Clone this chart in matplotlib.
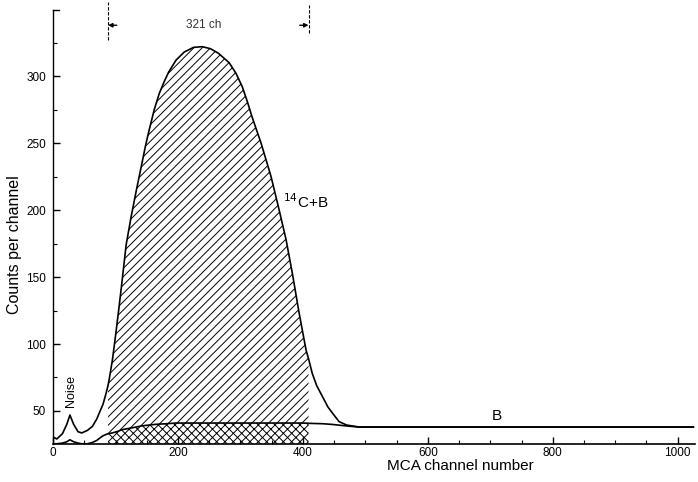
import numpy as np
import matplotlib
matplotlib.use("Agg")
import matplotlib.pyplot as plt

plt.rcParams['font.family'] = ['Liberation Sans', 'DejaVu Sans']
plt.rcParams['hatch.linewidth'] = 0.7

# channel grid (MCA channel number)
chan = [0, 6, 15, 22, 27, 33, 40, 46, 55, 63,
        70, 74, 80, 85, 88, 90, 95, 100, 105, 110,
        117, 125, 133, 141, 148, 154, 162, 170, 178, 185,
        197, 210, 225, 239, 252, 265, 282, 293, 303, 311,
        319, 333, 349, 362, 373, 383, 394, 405, 409, 415,
        422, 431, 440, 448, 458, 470, 490, 600, 800, 1000, 1025]

# 14C + B spectrum (upper curve)
c14_b = [30.6, 29.1, 33, 40, 47, 40, 34.5, 33.6, 35.5, 38.5,
         44, 48.5, 55, 63.4, 69, 74, 88, 106, 125, 145,
         174, 195, 214, 232, 248, 260, 275, 287, 296, 303,
         312, 318, 321.5, 322, 320.5, 317, 310, 302, 292, 281,
         269, 250, 225, 200, 178, 153, 123, 95.5, 89, 78,
         69, 61, 53, 48, 42, 39.5, 38, 38, 38, 38, 38]

# background B (lower curve)
bkg = [25.5, 25.5, 26, 27, 28.5, 27, 26, 25.5, 25.5, 26.5,
       28, 29.5, 31.5, 32.5, 33, 33.2, 33.6, 34.3, 35, 36,
       36.6, 37.3, 38, 38.8, 39.2, 39.5, 39.9, 40.2, 40.4, 40.6,
       41, 41, 41, 41, 41, 41, 41, 41, 41, 41,
       41, 41, 41, 41, 41, 41, 41, 40.9, 40.8, 40.7,
       40.6, 40.5, 40.2, 39.9, 39.4, 38.8, 38, 38, 38, 38, 38]

# counting window (321 channels)
win_lo, win_hi = 88, 409

chan = np.array(chan)
c14_b = np.array(c14_b)
bkg = np.array(bkg)

fig = plt.figure(figsize=(6.98, 4.82), dpi=100)
ax = fig.add_axes([0.076, 0.079, 0.92, 0.9])

y0, y1 = 25.4, 349.3
ax.set_xlim(0, 1028)
ax.set_ylim(y0, y1)

inwin = (chan >= win_lo) & (chan <= win_hi)
ax.fill_between(chan, bkg, c14_b, where=inwin, facecolor='none',
                edgecolor='black', hatch='////', linewidth=0)
ax.fill_between(chan, y0, bkg, where=inwin, facecolor='none',
                edgecolor='black', hatch='xxxx', linewidth=0)

ax.plot(chan, c14_b, color='black', lw=1.2, solid_joinstyle='round')
ax.plot(chan, bkg, color='black', lw=1.2, solid_joinstyle='round')

# window markers at the top
for xw, y_bot, y_top, dx in [(win_lo, 327, 355, 14), (win_hi, 332, 353, -14)]:
    ax.plot([xw, xw], [y_bot, y_top], color='black', lw=0.8, ls=(0, (3, 1.5)),
            clip_on=False)
    ax.annotate('', xy=(xw, 338), xytext=(xw + dx, 338), annotation_clip=False,
                arrowprops=dict(arrowstyle='-|>', color='black', lw=1,
                                mutation_scale=6, shrinkA=0, shrinkB=0))
ax.text((win_lo + win_hi) / 2 - 8, 338, '321 ch', fontsize=8.5, ha='center',
        va='center', color='#333333')

# labels on curves
ax.text(368, 206, '$^{14}$C+B', fontsize=11, ha='left', va='center')
ax.text(711, 41, 'B', fontsize=11, ha='center', va='bottom')
ax.text(29, 65, 'Noise', fontsize=9, rotation=90, ha='center', va='center')

# axes styling
for s in ['top', 'right']:
    ax.spines[s].set_visible(False)
ax.spines['left'].set_linewidth(1.0)
ax.spines['bottom'].set_linewidth(1.2)
ax.plot([0, 10], [y1, y1], color='black', lw=1, clip_on=False)

ax.set_xticks([0, 200, 400, 600, 800, 1000])
ax.set_xticks(np.arange(50, 1001, 50), minor=True)
ax.set_yticks([50, 100, 150, 200, 250, 300])
ax.set_yticks([75, 125, 175, 225, 275, 325], minor=True)
ax.tick_params(which='major', direction='in', length=5, width=1, labelsize=8.5, pad=5)
ax.tick_params(axis='x', which='major', pad=2.5)
ax.tick_params(which='minor', direction='in', length=3, width=0.8)

ax.set_xlabel('MCA channel number', fontsize=11, va='center')
ax.xaxis.set_label_coords(0.635, -0.05)
ax.set_ylabel('Counts per channel', fontsize=11.5)
ax.yaxis.set_label_coords(-0.048, 0.46)

fig.savefig('out.png', dpi=100)
